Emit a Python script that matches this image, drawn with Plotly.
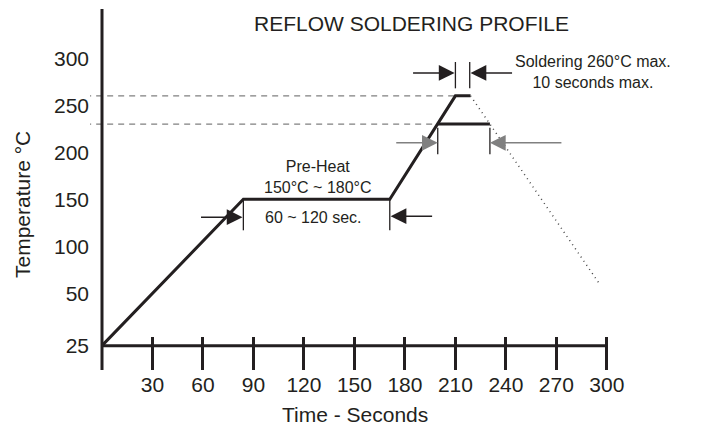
import plotly.graph_objects as go

# ---------------- data ----------------
profile_time = [0, 84, 171, 210, 219]
profile_temp = [25, 150, 150, 260, 260]
cool_time = [219, 296]
cool_temp = [260, 59]
above_time = [199.5, 230.5]
above_temp = [230, 230]
x_ticks = [30, 60, 90, 120, 150, 180, 210, 240, 270, 300]
y_ticks = [25, 50, 100, 150, 200, 250, 300]
y_tick_text = [str(v) for v in y_ticks]


def ypos(t):
    # axis scale: linear above 50, the 25..50 band drawn stretched
    return t if t >= 50 else 50 - (50 - t) * 2.228


INK = "#231f20"
GRAY = "#808080"
FONT = "Liberation Sans, Arial, sans-serif"

fig = go.Figure()

# dashed reference lines
fig.add_trace(go.Scatter(x=[-10, 210], y=[ypos(260)] * 2, mode="lines",
                         line=dict(color=GRAY, width=1.2, dash="6px,5px"),
                         hoverinfo="skip", showlegend=False))
fig.add_trace(go.Scatter(x=[-10, 199.5], y=[ypos(230)] * 2, mode="lines",
                         line=dict(color=GRAY, width=1.2, dash="6px,5px"),
                         hoverinfo="skip", showlegend=False))

# profile
fig.add_trace(go.Scatter(x=profile_time, y=[ypos(v) for v in profile_temp], mode="lines",
                         line=dict(color=INK, width=3), showlegend=False))
fig.add_trace(go.Scatter(x=above_time, y=[ypos(v) for v in above_temp], mode="lines",
                         line=dict(color=INK, width=3), showlegend=False))
fig.add_trace(go.Scatter(x=cool_time, y=[ypos(v) for v in cool_temp], mode="lines",
                         line=dict(color="#444", width=1.5, dash="1px,4px"), showlegend=False))

shapes = []
# axes
shapes.append(dict(type="line", x0=0, x1=300, y0=ypos(25), y1=ypos(25),
                   line=dict(color=INK, width=3)))
shapes.append(dict(type="line", x0=0, x1=0, y0=-40, y1=400,
                   line=dict(color=INK, width=3)))


# marker lines
def vline(x, y0, y1, w=1.3):
    shapes.append(dict(type="line", x0=x, x1=x, y0=y0, y1=y1, line=dict(color=INK, width=w)))


vline(84, 150, 117)
vline(171, 150, 117)
vline(210, 296, 268)
vline(218.5, 296, 268)
vline(199.5, 226, 198)
vline(230.5, 226, 198)

annotations = []


def arrow(x, y, ax, color):
    annotations.append(dict(x=x, y=y, xref="x", yref="y", ax=ax, ay=0, text="",
                            showarrow=True, arrowhead=2, arrowsize=2.1, arrowwidth=1.5,
                            arrowcolor=color, standoff=0))


arrow(83.5, 131, -43, INK)
arrow(171.5, 132, 43, INK)
arrow(209.5, 284.4, -43, INK)
arrow(219, 284.4, 43, INK)
arrow(199.5, 210, -43, GRAY)
arrow(230.5, 210, 73, GRAY)


def label(x, y, text, size=16, xref="x", yref="y", angle=0):
    annotations.append(dict(x=x, y=y, xref=xref, yref=yref, text=text, showarrow=False,
                            font=dict(size=size, color=INK, family=FONT), textangle=angle,
                            xanchor="center", yanchor="middle"))


label(0.606, 336.5, "REFLOW SOLDERING PROFILE", size=21, xref="paper")
label(128.3, 173.5, "Pre-Heat<br>150°C ~ 180°C")
label(125.4, 131, "60 ~ 120 sec.")
label(291.7, 284.9, "Soldering 260°C max.<br>10 seconds max.")
label(315.2, 208.8, "Time above 230°C<br>30 seconds max.")
label(318.5, 126.4, "Cool Down<br>2 minutes or more")
# axis titles
label(0.5, -0.122, "Time - Seconds", size=21, xref="paper", yref="paper")
label(-0.1283, 0.457, "Temperature °C", size=21, xref="paper", yref="paper", angle=-90)

fig.update_layout(
    width=703, height=429,
    margin=dict(l=90, r=83, t=9, b=59, autoexpand=False),
    paper_bgcolor="white", plot_bgcolor="white",
    font=dict(family=FONT, color=INK, size=21),
    shapes=shapes, annotations=annotations,
    showlegend=False,
)
fig.update_xaxes(range=[-7.13, 307.8], showgrid=False, zeroline=False, showline=False,
                 automargin=False,
                 tickvals=x_ticks, ticks="inside", ticklen=33, tickwidth=3, tickcolor=INK,
                 tickfont=dict(size=21, family=FONT, color=INK))
fig.update_yaxes(range=[-31.6, 352.4], showgrid=False, zeroline=False, showline=False,
                 automargin=False,
                 tickvals=[ypos(v) for v in y_ticks], ticktext=y_tick_text, ticks="",
                 tickfont=dict(size=21, family=FONT, color=INK))

fig.write_html("out.html", config={"displayModeBar": False},
               post_script="document.body.style.margin='0';document.body.style.overflow='hidden';")
